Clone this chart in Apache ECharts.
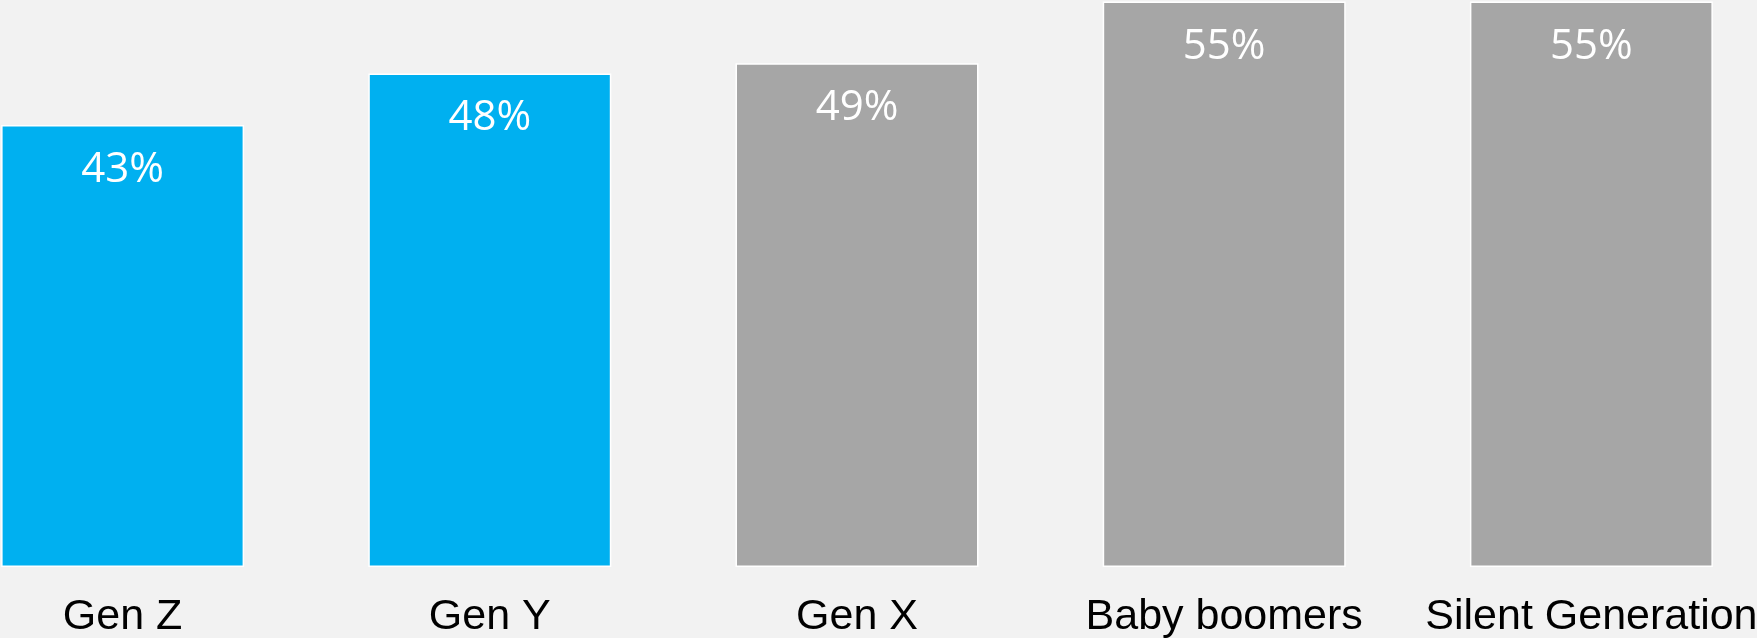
<!DOCTYPE html>
<html><head><meta charset="utf-8">
<script src="https://cdn.jsdelivr.net/npm/echarts@6/dist/echarts.min.js"></script>
<style>html,body{margin:0;padding:0;background:#F2F2F2;overflow:hidden}#c{position:absolute;left:-61px;top:0;width:1836px;height:638px}</style>
</head><body><div id="c"></div>
<script>
const categories = ['Gen Z', 'Gen Y', 'Gen X', 'Baby boomers', 'Silent Generation'];
const values = [43, 48, 49, 55, 55];
const barColors = ['#00B0F0', '#00B0F0', '#A6A6A6', '#A6A6A6', '#A6A6A6'];

const chart = echarts.init(document.getElementById('c'), null, {renderer: 'canvas'});
chart.setOption({
  backgroundColor: '#F2F2F2',
  animation: false,
  grid: {left: 0, right: 0, top: 0, bottom: 71, containLabel: false, outerBoundsMode: 'none'},
  xAxis: {
    type: 'category', data: categories,
    axisLine: {show: false}, axisTick: {show: false},
    axisLabel: {
      interval: 0, margin: 29, color: '#000',
      fontFamily: 'Liberation Sans', fontSize: 43
    }
  },
  yAxis: {type: 'value', min: 0, max: 55.15, show: false, splitLine: {show: false}},
  series: [{
    type: 'bar', barWidth: 243,
    data: values.map((v, i) => ({value: v, itemStyle: {color: barColors[i]}})),
    itemStyle: {borderColor: '#FFFFFF', borderWidth: 1.5},
    label: {
      show: true, position: 'insideTop', distance: 24,
      formatter: p => p.value + '%',
      color: '#FFFFFF', fontFamily: 'Open Sans', fontSize: 42
    }
  }]
});
</script></body></html>
